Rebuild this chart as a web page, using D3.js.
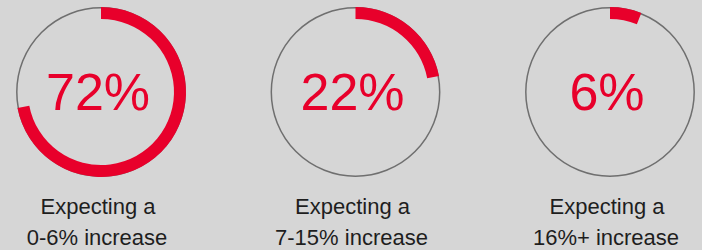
<!DOCTYPE html>
<html><head><meta charset="utf-8">
<script src="https://cdn.jsdelivr.net/npm/d3@7"></script>
<style>html,body{margin:0;padding:0;background:#d6d6d6;}svg{display:block;}</style>
</head><body>
<svg id="chart" width="702" height="250"></svg>
<script>
const categories = ["0-6% increase", "7-15% increase", "16%+ increase"];
const prefixLabels = ["Expecting a", "Expecting a", "Expecting a"];
const values = [72, 22, 6];

const W = 702, H = 250;
const svg = d3.select("#chart");
svg.append("rect").attr("width", W).attr("height", H).attr("fill", "#d6d6d6");

const x = d3.scalePoint().domain(categories).range([101, 610]);
const angle = d3.scaleLinear().domain([0, 100]).range([0, 2 * Math.PI]);
const cy = 92, rOuter = 85, rInner = 73;
const arc = d3.arc().innerRadius(rInner).outerRadius(rOuter).startAngle(0);

const g = svg.selectAll("g.donut").data(categories).join("g")
  .attr("class", "donut")
  .attr("transform", d => `translate(${x(d)},${cy})`);

g.append("circle").attr("r", rOuter - 0.8).attr("fill", "none")
  .attr("stroke", "#6f6f6f").attr("stroke-width", 1.5);

g.append("path").attr("fill", "#e8002b")
  .attr("d", (d, i) => arc({endAngle: angle(values[i])}));

g.append("text").attr("x", -3).attr("y", 110 - cy)
  .attr("text-anchor", "middle")
  .attr("font-family", "Liberation Sans, Arial, sans-serif")
  .attr("font-size", 52).attr("fill", "#e8002b")
  .text((d, i) => values[i] + "%");

g.append("text").attr("x", -3).attr("y", 214 - cy)
  .attr("text-anchor", "middle")
  .attr("font-family", "Liberation Sans, Arial, sans-serif")
  .attr("font-size", 22).attr("fill", "#1e1e1e")
  .text((d, i) => prefixLabels[i]);

g.append("text").attr("x", -4).attr("y", 245 - cy)
  .attr("text-anchor", "middle")
  .attr("font-family", "Liberation Sans, Arial, sans-serif")
  .attr("font-size", 22).attr("fill", "#1e1e1e")
  .text(d => d);
</script>
</body></html>
